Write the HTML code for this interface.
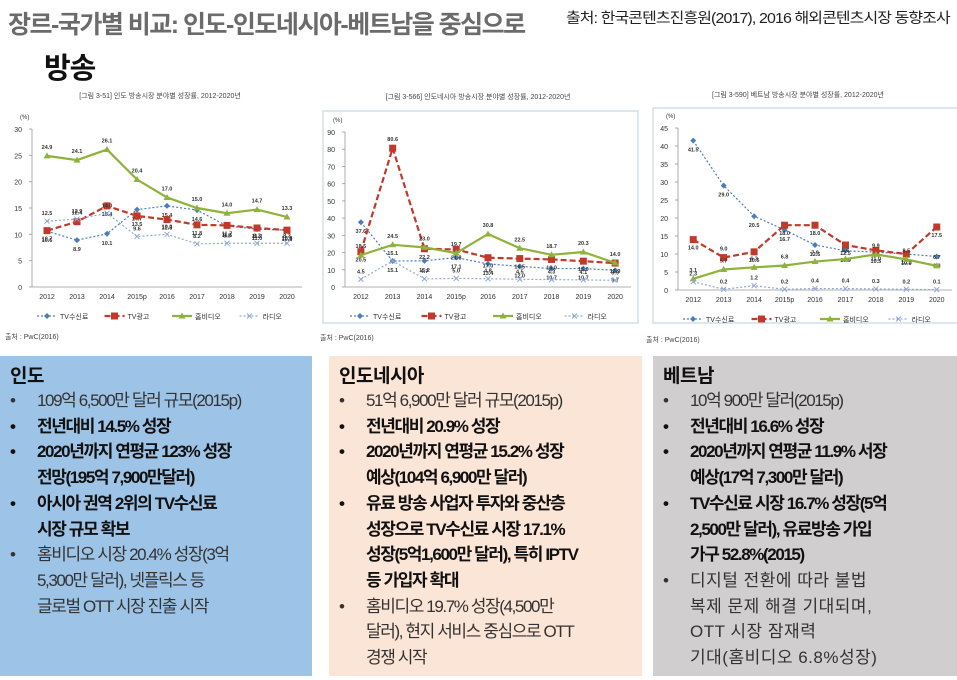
<!DOCTYPE html>
<html><head><meta charset="utf-8">
<style>
*{margin:0;padding:0;box-sizing:border-box}
body{width:957px;height:680px;background:#fff;position:relative;overflow:hidden;font-family:"Liberation Sans","Noto Sans CJK KR",sans-serif}
.abs{position:absolute}
#title{left:8px;top:5px;font-size:25px;font-weight:bold;color:#6b6b6b;letter-spacing:-1.5px;white-space:nowrap}
#src{left:566px;top:7px;font-size:14.5px;color:#222;letter-spacing:-0.8px;white-space:nowrap;transform:scaleX(1.1);transform-origin:0 0}
#sub{left:44px;top:45px;font-size:29px;font-weight:bold;color:#111;letter-spacing:-1px}
.panel{top:356px;height:320px;padding:5px 0 0 0}
.panel h3{font-size:19px;font-weight:bold;color:#111;margin-left:10px;height:27px;letter-spacing:-0.5px}
.panel ul{list-style:none}
.panel li{position:relative;padding-left:37px;font-size:17px;line-height:25.7px;color:#222;letter-spacing:-1.4px;white-space:nowrap}
.panel li:before{content:"•";position:absolute;left:10px;top:0}
.panel li.b{font-weight:bold;color:#111}
.panel li.n{color:#333}
svg text{font-family:"Liberation Sans","Noto Sans CJK KR",sans-serif}
</style></head><body>
<div id="title" class="abs">장르-국가별 비교: 인도-인도네시아-베트남을 중심으로</div>
<div id="src" class="abs">출처: 한국콘텐츠진흥원(2017), 2016 해외콘텐츠시장 동향조사</div>
<div id="sub" class="abs">방송</div>

<svg id="charts" class="abs" style="left:0;top:0" width="957" height="350"></svg>

<div class="abs panel" style="left:0;width:312px;background:#9dc3e6">
<h3>인도</h3>
<ul>
<li class="n">109억 6,500만 달러 규모(2015p)</li>
<li class="b">전년대비 14.5% 성장</li>
<li class="b">2020년까지 연평균 123% 성장<br>전망(195억 7,900만달러)</li>
<li class="b">아시아 권역 2위의 TV수신료<br>시장 규모 확보</li>
<li class="n">홈비디오 시장 20.4% 성장(3억<br>5,300만 달러), 넷플릭스 등<br>글로벌 OTT 시장 진출 시작</li>
</ul></div>

<div class="abs panel" style="left:329px;width:313px;background:#fbe5d6">
<h3>인도네시아</h3>
<ul>
<li class="n">51억 6,900만 달러 규모(2015p)</li>
<li class="b">전년대비 20.9% 성장</li>
<li class="b">2020년까지 연평균 15.2% 성장<br>예상(104억 6,900만 달러)</li>
<li class="b">유료 방송 사업자 투자와 중산층<br>성장으로 TV수신료 시장 17.1%<br>성장(5억1,600만 달러), 특히 IPTV<br>등 가입자 확대</li>
<li class="n">홈비디오 19.7% 성장(4,500만<br>달러), 현지 서비스 중심으로 OTT<br>경쟁 시작</li>
</ul></div>

<div class="abs panel" style="left:653px;width:304px;background:#d0cece">
<h3>베트남</h3>
<ul>
<li class="n">10억 900만 달러(2015p)</li>
<li class="b">전년대비 16.6% 성장</li>
<li class="b">2020년까지 연평균 11.9% 서장<br>예상(17억 7,300만 달러)</li>
<li class="b">TV수신료 시장 16.7% 성장(5억<br>2,500만 달러), 유료방송 가입<br>가구 52.8%(2015)</li>
<li class="n" style="letter-spacing:0.5px">디지털 전환에 따라 불법<br>복제 문제 해결 기대되며,<br>OTT 시장 잠재력<br>기대(홈비디오 6.8%성장)</li>
</ul></div>

<script>
const categories = ["2012","2013","2014","2015p","2016","2017","2018","2019","2020"];
const seriesNames = ["TV수신료","TV광고","홈비디오","라디오"];
const indiaTvSub = [10.6,8.9,10.1,14.7,15.4,14.6,11.6,11.0,10.8];
const indiaTvAd = [10.7,12.4,15.4,13.5,12.8,11.8,11.7,11.2,10.8];
const indiaHomeVideo = [24.9,24.1,26.1,20.4,17.0,15.0,14.0,14.7,13.3];
const indiaRadio = [12.5,12.9,14.0,9.6,10.0,8.2,8.3,8.3,8.3];
const indiaTicks = [0,5,10,15,20,25,30];
const indoTvSub = [37.6,15.1,15.2,17.1,13.4,12.0,10.7,10.7,9.7];
const indoTvAd = [20.5,80.6,22.2,21.8,17.0,16.5,16.0,15.0,13.9];
const indoHomeVideo = [18.5,24.5,23.0,19.7,30.8,22.5,18.7,20.3,14.0];
const indoRadio = [4.5,15.1,4.7,5.0,4.8,4.5,4.3,4.1,3.9];
const indoTicks = [0,10,20,30,40,50,60,70,80,90];
const vietTvSub = [41.5,29.0,20.5,16.7,12.5,10.9,10.5,10.0,9.3];
const vietTvAd = [14.0,9.0,10.6,18.0,18.0,12.5,11.0,10.0,17.5];
const vietHomeVideo = [3.1,5.7,6.3,6.8,7.9,8.6,9.9,8.5,6.7];
const vietRadio = [2.3,0.2,1.2,0.2,0.4,0.4,0.3,0.2,0.1];
const vietTicks = [0,5,10,15,20,25,30,35,40,45];

const svg = document.getElementById('charts');
const NS = 'http://www.w3.org/2000/svg';
function mk(tag, attrs, parent){
  const e = document.createElementNS(NS, tag);
  for (const k in attrs) e.setAttribute(k, attrs[k]);
  (parent||svg).appendChild(e);
  return e;
}
const styles = [
  {c:'#4a7ebb', dash:'2,2', w:1.2, m:'diamond'},
  {c:'#c0392b', dash:'6,3', w:2.2, m:'square'},
  {c:'#8db33a', dash:'', w:2.2, m:'tri'},
  {c:'#8fa8d8', dash:'2,2', w:1.2, m:'x'}
];
function marker(g, type, x, y, c){
  let e;
  if (type==='diamond') e = mk('path',{d:`M${x} ${y-3}L${x+3} ${y}L${x} ${y+3}L${x-3} ${y}Z`,fill:c},g);
  else if (type==='square') e = mk('rect',{x:x-3.5,y:y-3.5,width:7,height:7,fill:c},g);
  else if (type==='tri') e = mk('path',{d:`M${x} ${y-3.5}L${x+3.5} ${y+2.5}L${x-3.5} ${y+2.5}Z`,fill:c},g);
  else e = mk('path',{d:`M${x-2.5} ${y-2.5}L${x+2.5} ${y+2.5}M${x+2.5} ${y-2.5}L${x-2.5} ${y+2.5}`,stroke:c,'stroke-width':1},g);
  
  
}
function chart(cfg, series, ticks, name){
  const g = mk('g',{});
  
  
  if (cfg.frame){
    const f = mk('rect',{x:cfg.frame[0],y:cfg.frame[1],width:cfg.frame[2],height:cfg.frame[3],fill:'none',stroke:'#d3dee8','stroke-width':1.5},g);
    
    
  }
  const t = mk('text',{x:cfg.titleX,y:cfg.titleY,'font-size':7,fill:'#444','text-anchor':'middle'},g);
  t.textContent = cfg.title;
  
  
  const maxV = ticks[ticks.length-1];
  const yS = v => cfg.y0 - (v/maxV)*(cfg.y0-cfg.yTop);
  const bw = (cfg.right-cfg.left)/categories.length;
  const xS = i => cfg.left + bw*(i+0.5);
  const u = mk('text',{x:cfg.left-12,y:cfg.yTop-10,'font-size':6,fill:'#333'},g);
  u.textContent='(%)';
  
  
  ticks.forEach(v=>{
    const tl = mk('text',{x:cfg.left-10,y:yS(v)+3,'font-size':7,fill:'#333','text-anchor':'end'},g);
    tl.textContent = v;
    
    
    const tk = mk('line',{x1:cfg.left-3,x2:cfg.left,y1:yS(v),y2:yS(v),stroke:'#999','stroke-width':0.8},g);
    
    
  });
  const ya = mk('line',{x1:cfg.left,x2:cfg.left,y1:cfg.yTop,y2:cfg.y0,stroke:'#999','stroke-width':0.8},g);
  
  
  const xa = mk('line',{x1:cfg.left,x2:cfg.right,y1:cfg.y0,y2:cfg.y0,stroke:'#999','stroke-width':0.8},g);
  
  
  categories.forEach((c,i)=>{
    const xl = mk('text',{x:xS(i),y:cfg.y0+12,'font-size':7,fill:'#333','text-anchor':'middle'},g);
    xl.textContent = c;
    
    
  });
  series.forEach((vals,si)=>{
    const s = styles[si];
    const sg = mk('g',{},g);
    
    
    const pts = vals.map((v,i)=>xS(i)+','+yS(v)).join(' ');
    const pl = mk('polyline',{points:pts,fill:'none',stroke:s.c,'stroke-width':s.w,'stroke-dasharray':s.dash},sg);
    
    
    vals.forEach((v,i)=>{
      marker(sg,s.m,xS(i),yS(v),s.c);
      const off = (si===2||si===1&&i===1) ? -7 : (si===0 ? 11 : (si===3? -6: 10));
      const lb = mk('text',{x:xS(i),y:yS(v)+off,'font-size':5.5,'font-weight':'bold',fill:'#333','text-anchor':'middle'},sg);
      lb.textContent = v.toFixed(1);
      
      
    });
  });
  const ly = cfg.y0+29;
  const lw = (cfg.right-cfg.left)/4;
  seriesNames.forEach((n,si)=>{
    const s = styles[si];
    const lx = cfg.left + 5 + lw*si;
    const lg = mk('g',{},g);
    
    
    const ll = mk('line',{x1:lx,x2:lx+20,y1:ly,y2:ly,stroke:s.c,'stroke-width':s.w,'stroke-dasharray':s.dash},lg);
    
    
    marker(lg,s.m,lx+10,ly,s.c);
    const lt = mk('text',{x:lx+23,y:ly+3,'font-size':7,fill:'#333'},lg);
    lt.textContent = n;
    
    
  });
  const src = mk('text',{x:cfg.srcX,y:cfg.srcY,'font-size':7,fill:'#444'},g);
  src.textContent = '출처 : PwC(2016)';
  
  
}
chart({left:32,right:302,y0:287,yTop:129,title:'[그림 3-51] 인도 방송시장 분야별 성장률, 2012-2020년',titleX:160,titleY:98,frame:null,srcX:5,srcY:339},
  [indiaTvSub,indiaTvAd,indiaHomeVideo,indiaRadio], indiaTicks, 'india-chart');
chart({left:345,right:631,y0:287,yTop:132,title:'[그림 3-566] 인도네시아 방송시장 분야별 성장률, 2012-2020년',titleX:478,titleY:99,frame:[323,111,315,212],srcX:320,srcY:340},
  [indoTvSub,indoTvAd,indoHomeVideo,indoRadio], indoTicks, 'indonesia-chart');
chart({left:678,right:952,y0:290,yTop:128,title:'[그림 3-590] 베트남 방송시장 분야별 성장률, 2012-2020년',titleX:798,titleY:97,frame:[653,108,310,215],srcX:646,srcY:342},
  [vietTvSub,vietTvAd,vietHomeVideo,vietRadio], vietTicks, 'vietnam-chart');
</script>
</body></html>
